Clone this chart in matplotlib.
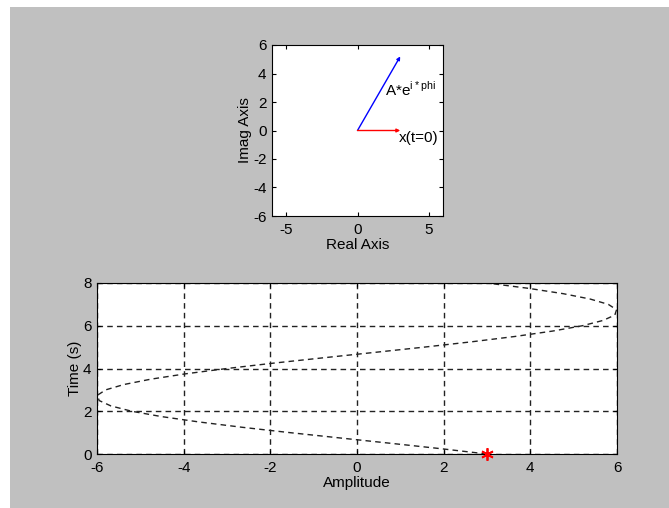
import matplotlib
matplotlib.use("Agg")
import matplotlib.pyplot as plt
from matplotlib.patches import Rectangle

# phasor values
phasor_re = 3.0
phasor_im = 5.2
x0 = 3.0

# dashed curve (time in s, amplitude)
time_s = [0.0, 0.25, 0.5, 0.75, 1.0, 1.25, 1.5, 1.75, 2.0, 2.25, 2.5, 2.75,
          3.0, 3.25, 3.5, 3.75, 4.0, 4.25, 4.5, 4.75, 5.0, 5.25, 5.5, 5.75,
          6.0, 6.25, 6.5, 6.75, 7.0, 7.25, 7.5, 7.75, 8.0]
amplitude = [3.00, 1.93, 0.78, -0.39, -1.55, -2.65, -3.65, -4.51, -5.20,
             -5.68, -5.95, -5.99, -5.80, -5.38, -4.76, -3.96, -3.00, -1.93,
             -0.78, 0.39, 1.55, 2.65, 3.65, 4.51, 5.20, 5.68, 5.95, 5.99,
             5.80, 5.38, 4.76, 3.96, 3.00]

plt.rcParams['font.family'] = ['Liberation Sans', 'DejaVu Sans']
plt.rcParams['font.size'] = 11
plt.rcParams['axes.unicode_minus'] = False

fig = plt.figure(figsize=(6.69, 5.08), dpi=100, facecolor='white')
fig.patches.append(Rectangle((10 / 669, 0), 1, 1 - 7 / 508, transform=fig.transFigure,
                             facecolor='#c0c0c0', edgecolor='none', zorder=-10))

def matlab_axes(ax):
    ax.set_facecolor('white')
    ax.tick_params(direction='in', length=3, top=True, right=True, width=0.8,
                   labelsize=11)
    ax.tick_params(axis='x', pad=5)
    ax.tick_params(axis='y', pad=4)
    for s in ax.spines.values():
        s.set_linewidth(0.8)

# upper plot: phasor
ax1 = fig.add_axes([272 / 669, 1 - 216 / 508, 171 / 669, 171 / 508])
matlab_axes(ax1)
ax1.annotate('', xy=(phasor_re, phasor_im), xytext=(0, 0),
             arrowprops=dict(arrowstyle='-|>', color='blue', lw=1, mutation_scale=5,
                             shrinkA=0, shrinkB=0))
ax1.annotate('', xy=(x0, 0), xytext=(0, 0),
             arrowprops=dict(arrowstyle='-|>', color='red', lw=1, mutation_scale=5,
                             shrinkA=0, shrinkB=0))
ax1.text(1.95, 2.85, r'A*e$^{\mathregular{i*phi}}$', va='center', ha='left', fontsize=11)
ax1.text(2.9, -0.5, 'x(t=0)', va='center', ha='left', fontsize=11)
ax1.set_xlim(-6, 6)
ax1.set_ylim(-6, 6)
ax1.set_xticks([-5, 0, 5])
ax1.set_yticks([-6, -4, -2, 0, 2, 4, 6])
ax1.set_xlabel('Real Axis', labelpad=1)
ax1.set_ylabel('Imag Axis', labelpad=1)

# lower plot: amplitude vs time
ax2 = fig.add_axes([97 / 669, 1 - 454 / 508, 520 / 669, 171 / 508])
matlab_axes(ax2)
ax2.plot(amplitude, time_s, color='#222222', linestyle=(0, (4, 3)), lw=1)
ax2.plot([x0], [0], marker=(6, 2, 0), color='red', markersize=9, mew=1.3,
         clip_on=False, zorder=5)
ax2.set_xlim(-6, 6)
ax2.set_ylim(0, 8)
ax2.set_xticks([-6, -4, -2, 0, 2, 4, 6])
ax2.set_yticks([0, 2, 4, 6, 8])
ax2.grid(True, color='#222222', linestyle=(0, (4, 3)), lw=1)
ax2.set_xlabel('Amplitude', labelpad=1)
ax2.set_ylabel('Time (s)', labelpad=1)

fig.savefig('out.png', dpi=100, facecolor=fig.get_facecolor())
